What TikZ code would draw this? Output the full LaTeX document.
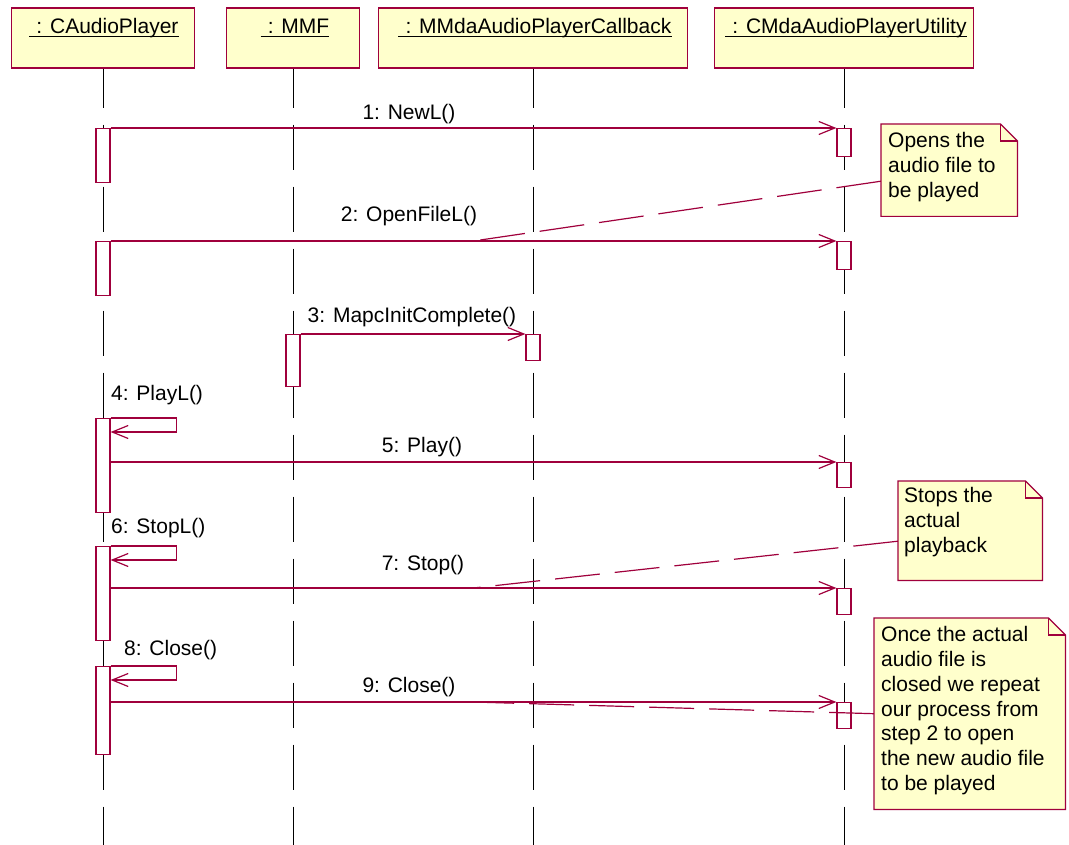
\documentclass[tikz,border=0pt]{standalone}
\usepackage{fontspec}
\setmainfont{Liberation Sans}
\usetikzlibrary{arrows.meta,calc}
\definecolor{umlred}{RGB}{160,0,60}
\definecolor{umlfill}{RGB}{255,255,204}

\begin{document}
\begin{tikzpicture}[x=1pt,y=-1pt,
  font=\fontsize{21}{24.7}\selectfont,
  header/.style={rectangle, draw=umlred, fill=umlfill, line width=1.4pt,
                 minimum height=60pt, inner sep=0pt},
  title/.style={anchor=base, inner sep=0pt},
  lifeline/.style={draw=black, line width=1pt, dash pattern=on 45pt off 17pt, dash phase=6pt},
  act/.style={rectangle, draw=umlred, fill=white, line width=1.2pt,
              minimum width=14pt, inner sep=0pt, anchor=north},
  msg/.style={draw=umlred, line width=1.2pt, -{Straight Barb[length=16pt,width=13pt]}},
  lbl/.style={anchor=base, inner sep=0pt},
  selflbl/.style={anchor=base west, inner sep=0pt},
  notearea/.style={rectangle, inner sep=0pt, anchor=north west},
  notetext/.style={anchor=north west, inner sep=0pt, align=left},
  anchorline/.style={draw=umlred, line width=1.2pt, dash pattern=on 45pt off 15pt},
]
\useasboundingbox (0,0) rectangle (1069,845);

% object headers
\node[header, minimum width=183pt] (ca)  at (103,38) {};
\node[header, minimum width=133pt] (mmf) at (293,38) {};
\node[header, minimum width=309pt] (cb)  at (533,38) {};
\node[header, minimum width=259pt] (ut)  at (844,38) {};

\node[title] (caT)  at (104,33.5) {\hspace{7pt}: CAudioPlayer};
\node[title] (mmfT) at (295,33.5) {\hspace{7pt}: MMF};
\node[title] (cbT)  at (535,33.5) {\hspace{7pt}: MMdaAudioPlayerCallback};
\node[title] (utT)  at (846,33.5) {\hspace{7pt}: CMdaAudioPlayerUtility};
\foreach \t in {caT,mmfT,cbT,utT}
  \draw[line width=1.6pt] ([yshift=-3pt]\t.base west) -- ([yshift=-3pt]\t.base east);

% lifelines
\coordinate (caEnd)  at (103,845);
\coordinate (mmfEnd) at (293,845);
\coordinate (cbEnd)  at (533,845);
\coordinate (utEnd)  at (844,845);
\draw[lifeline] (ca.south)  -- (caEnd);
\draw[lifeline] (mmf.south) -- (mmfEnd);
\draw[lifeline] (cb.south)  -- (cbEnd);
\draw[lifeline] (ut.south)  -- (utEnd);

% activations
\node[act, minimum height=54pt] (caA1) at (103,128) {};
\node[act, minimum height=54pt] (caA2) at (103,241) {};
\node[act, minimum height=94pt] (caA4) at (103,418) {};
\node[act, minimum height=94pt] (caA6) at (103,546) {};
\node[act, minimum height=88pt] (caA8) at (103,666) {};
\node[act, minimum height=52pt] (mmfA3) at (293,334) {};
\node[act, minimum height=26pt] (cbA3)  at (533,334) {};
\node[act, minimum height=28pt] (utA1) at (844,128) {};
\node[act, minimum height=28pt] (utA2) at (844,241) {};
\node[act, minimum height=25pt] (utA5) at (844,462) {};
\node[act, minimum height=26pt] (utA7) at (844,588) {};
\node[act, minimum height=26pt] (utA9) at (844,702) {};

% messages
\draw[msg] (caA1.north east) -- (utA1.north west);
\draw[msg] (caA2.north east) -- (utA2.north west);
\draw[msg] (mmfA3.north east) -- (cbA3.north west);
\draw[msg] (caA4.north east) -- ++(66,0) |- ([yshift=-14pt]caA4.north east);
\draw[msg] (caA4.east |- utA5.north) -- (utA5.north west);
\draw[msg] (caA6.north east) -- ++(66,0) |- ([yshift=-14pt]caA6.north east);
\draw[msg] (caA6.east |- utA7.north) -- (utA7.north west);
\draw[msg] (caA8.north east) -- ++(66,0) |- ([yshift=-14pt]caA8.north east);
\draw[msg] (caA8.east |- utA9.north) -- (utA9.north west);

\coordinate (m2) at ($(caA2.north east)!.5!(utA2.north west)$);
\coordinate (m7) at ($(caA6.east |- utA7.north)!.5!(utA7.north west)$);
\coordinate (m9) at ($(caA8.east |- utA9.north)!.5!(utA9.north west)$);

% message labels
\node[lbl] (l1) at (409,119.5) {1: NewL()};
\node[lbl] (l2) at (409,221.5) {2: OpenFileL()};
\node[lbl] (l3) at (412,323) {3: MapcInitComplete()};
\node[selflbl] (l4) at (111,400) {4: PlayL()};
\node[lbl] (l5) at (422,452) {5: Play()};
\node[selflbl] (l6) at (111,533) {6: StopL()};
\node[lbl] (l7) at (423,570.5) {7: Stop()};
\node[selflbl] (l8) at (124,655) {8: Close()};
\node[lbl] (l9) at (409,692) {9: Close()};

% notes
\node[notearea, minimum width=136pt, minimum height=92pt]  (n1) at (881,124) {};
\node[notearea, minimum width=144pt, minimum height=99pt]  (n2) at (898,481) {};
\node[notearea, minimum width=191pt, minimum height=191pt] (n3) at (874,618) {};

\draw[anchorline] ([yshift=-11pt]n1.west) -- (m2);
\draw[anchorline] ([yshift=-10.5pt]n2.west) -- (m7);
\draw[anchorline] (n3.west) -- (m9);

\foreach \n in {n1,n2,n3} {
  \filldraw[draw=umlred, fill=umlfill, line width=1.2pt]
    (\n.north west) -- ([xshift=-17pt]\n.north east) -- ([yshift=-17pt]\n.north east)
    -- (\n.south east) -- (\n.south west) -- cycle;
  \draw[umlred, line width=1.2pt]
    ([xshift=-17pt]\n.north east) |- ([yshift=-17pt]\n.north east);
}

\node[notetext] (n1t) at ([shift={(7pt,-8.5pt)}]n1.north west) {Opens the\\audio file to\\be played};
\node[notetext] (n2t) at ([shift={(6pt,-6.5pt)}]n2.north west) {Stops the\\actual\\playback};
\node[notetext] (n3t) at ([shift={(7pt,-8.5pt)}]n3.north west)
  {Once the actual\\audio file is\\closed we repeat\\our process from\\step 2 to open\\the new audio file\\to be played};
\end{tikzpicture}
\end{document}
